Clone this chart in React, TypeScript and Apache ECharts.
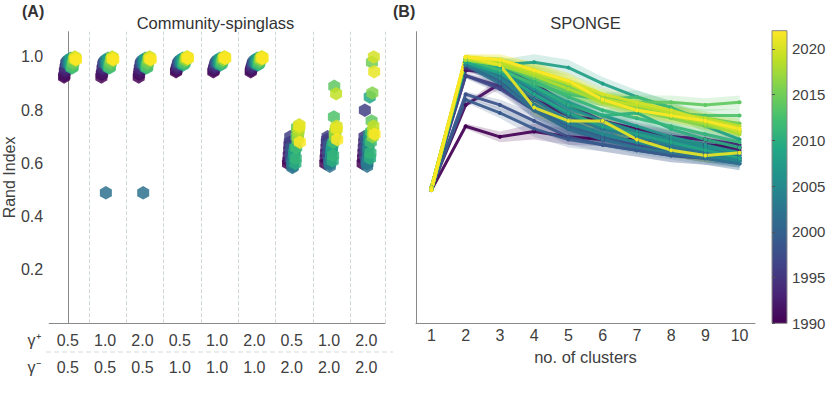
import React, { useEffect, useRef } from 'react';
import * as echarts from 'echarts';

// ---------- data ----------
const YEARS = [1990, 1991, 1992, 1993, 1994, 1995, 1996, 1997, 1998, 1999, 2000, 2001, 2002, 2003, 2004, 2005, 2006, 2007, 2008, 2009, 2010, 2011, 2012, 2013, 2014, 2015, 2016, 2017, 2018, 2019, 2020, 2021, 2022];

const GAMMA_PLUS = ['0.5', '1.0', '2.0', '0.5', '1.0', '2.0', '0.5', '1.0', '2.0'];
const GAMMA_MINUS = ['0.5', '0.5', '0.5', '1.0', '1.0', '1.0', '2.0', '2.0', '2.0'];
const COLUMN_POS = [0, 1, 2, 3, 4, 5, 6, 7, 8];
const SEPARATORS = [0.57, 1.57, 2.57, 3.57, 4.57, 5.57, 6.57, 7.57, 8.5];
const Y_TICKS = [0.2, 0.4, 0.6, 0.8, 1.0];

// Rand index per column (index = year order 1990..2022)
const SPIN_C1 = [0.925, 0.93, 0.945, 0.95, 0.96, 0.965, 0.975, 0.98, 0.975, 0.98, 0.985, 0.975, 0.98, 0.99, 0.985, 0.97, 0.975, 0.99, 0.995, 0.96, 0.965, 0.97, 0.96, 0.965, 0.975, 0.98, 0.99, 0.99, 0.995, 1.0, 0.995, 0.995, 0.99];
const SPIN_C2 = [0.925, 0.935, 0.94, 0.955, 0.96, 0.97, 0.975, 0.98, 0.975, 0.98, 0.985, 0.975, 0.49, 0.99, 0.985, 0.97, 0.975, 0.99, 0.995, 0.96, 0.965, 0.97, 0.96, 0.965, 0.975, 0.98, 0.99, 0.99, 0.995, 1.0, 0.995, 0.995, 0.99];
const SPIN_C3 = [0.925, 0.935, 0.945, 0.955, 0.96, 0.97, 0.975, 0.98, 0.975, 0.98, 0.985, 0.975, 0.49, 0.99, 0.985, 0.97, 0.975, 0.99, 0.995, 0.96, 0.965, 0.97, 0.96, 0.965, 0.975, 0.98, 0.99, 0.99, 0.995, 1.0, 0.995, 0.995, 0.99];
const SPIN_C4 = [0.945, 0.95, 0.955, 0.96, 0.965, 0.97, 0.975, 0.98, 0.975, 0.98, 0.985, 0.98, 0.98, 0.99, 0.985, 0.975, 0.98, 0.99, 0.995, 0.97, 0.975, 0.98, 0.975, 0.98, 0.985, 0.99, 0.995, 0.99, 0.995, 1.0, 0.995, 1.0, 0.995];
const SPIN_C5 = [0.945, 0.95, 0.955, 0.96, 0.965, 0.97, 0.975, 0.98, 0.975, 0.98, 0.985, 0.98, 0.98, 0.99, 0.985, 0.975, 0.98, 0.99, 0.995, 0.97, 0.975, 0.98, 0.975, 0.98, 0.985, 0.99, 0.995, 0.99, 0.995, 1.0, 0.995, 1.0, 0.995];
const SPIN_C6 = [0.945, 0.95, 0.955, 0.96, 0.965, 0.97, 0.975, 0.98, 0.975, 0.98, 0.985, 0.98, 0.98, 0.99, 0.985, 0.975, 0.98, 0.99, 0.995, 0.97, 0.975, 0.98, 0.975, 0.98, 0.985, 0.99, 0.995, 0.99, 0.995, 1.0, 0.995, 1.0, 0.995];
const SPIN_C7 = [0.60, 0.61, 0.63, 0.65, 0.67, 0.68, 0.70, 0.62, 0.64, 0.66, 0.61, 0.60, 0.585, 0.59, 0.60, 0.62, 0.63, 0.64, 0.65, 0.66, 0.60, 0.62, 0.66, 0.70, 0.735, 0.72, 0.69, 0.70, 0.72, 0.73, 0.745, 0.74, 0.68];
const SPIN_C8 = [0.60, 0.62, 0.64, 0.66, 0.68, 0.69, 0.70, 0.63, 0.65, 0.67, 0.61, 0.60, 0.59, 0.60, 0.61, 0.63, 0.64, 0.65, 0.66, 0.67, 0.61, 0.63, 0.68, 0.775, 0.89, 0.71, 0.70, 0.72, 0.73, 0.862, 0.74, 0.73, 0.69];
const SPIN_C9 = [0.60, 0.62, 0.64, 0.66, 0.68, 0.70, 0.80, 0.63, 0.66, 0.69, 0.61, 0.60, 0.59, 0.60, 0.62, 0.65, 0.67, 0.69, 0.71, 0.85, 0.62, 0.64, 0.68, 0.72, 0.76, 0.98, 0.865, 0.70, 0.72, 0.74, 1.0, 0.945, 0.71];
const SPIN_COLUMNS = [SPIN_C1, SPIN_C2, SPIN_C3, SPIN_C4, SPIN_C5, SPIN_C6, SPIN_C7, SPIN_C8, SPIN_C9];

const CLUSTERS = [1, 2, 3, 4, 5, 6, 7, 8, 9, 10];
const SPONGE = [
  [0.50, 0.74, 0.70, 0.72, 0.70, 0.69, 0.69, 0.68, 0.67, 0.66],
  [0.51, 0.82, 0.90, 0.84, 0.78, 0.76, 0.73, 0.70, 0.69, 0.66],
  [0.50, 0.95, 0.94, 0.86, 0.78, 0.73, 0.71, 0.69, 0.67, 0.65],
  [0.51, 0.97, 0.96, 0.90, 0.82, 0.76, 0.72, 0.70, 0.69, 0.67],
  [0.50, 0.96, 0.92, 0.82, 0.75, 0.70, 0.68, 0.66, 0.64, 0.63],
  [0.51, 0.93, 0.89, 0.80, 0.73, 0.69, 0.67, 0.65, 0.63, 0.62],
  [0.50, 0.96, 0.93, 0.86, 0.79, 0.74, 0.71, 0.68, 0.66, 0.64],
  [0.51, 0.93, 0.88, 0.80, 0.74, 0.70, 0.67, 0.65, 0.63, 0.62],
  [0.50, 0.86, 0.82, 0.76, 0.70, 0.67, 0.65, 0.63, 0.62, 0.61],
  [0.51, 0.84, 0.79, 0.73, 0.69, 0.67, 0.65, 0.63, 0.62, 0.60],
  [0.50, 0.97, 0.91, 0.81, 0.74, 0.70, 0.68, 0.65, 0.63, 0.61],
  [0.51, 0.98, 0.95, 0.87, 0.79, 0.73, 0.70, 0.67, 0.65, 0.62],
  [0.50, 0.97, 0.90, 0.80, 0.73, 0.69, 0.66, 0.64, 0.62, 0.60],
  [0.51, 0.98, 0.93, 0.84, 0.76, 0.71, 0.68, 0.66, 0.64, 0.62],
  [0.50, 0.97, 0.94, 0.86, 0.78, 0.73, 0.70, 0.67, 0.65, 0.63],
  [0.51, 0.98, 0.92, 0.82, 0.75, 0.71, 0.68, 0.65, 0.63, 0.61],
  [0.50, 0.98, 0.95, 0.88, 0.81, 0.76, 0.72, 0.69, 0.66, 0.64],
  [0.51, 0.99, 0.96, 0.89, 0.83, 0.78, 0.74, 0.70, 0.67, 0.64],
  [0.50, 0.98, 0.97, 0.98, 0.96, 0.90, 0.85, 0.81, 0.74, 0.69],
  [0.51, 0.98, 0.94, 0.86, 0.79, 0.74, 0.71, 0.68, 0.65, 0.62],
  [0.50, 0.99, 0.96, 0.89, 0.82, 0.78, 0.79, 0.73, 0.69, 0.66],
  [0.51, 0.99, 0.97, 0.91, 0.85, 0.80, 0.77, 0.74, 0.71, 0.68],
  [0.50, 0.99, 0.95, 0.90, 0.86, 0.84, 0.85, 0.81, 0.76, 0.72],
  [0.51, 0.99, 0.98, 0.93, 0.88, 0.84, 0.81, 0.79, 0.78, 0.78],
  [0.50, 0.99, 0.97, 0.92, 0.87, 0.84, 0.83, 0.83, 0.82, 0.83],
  [0.51, 0.99, 0.98, 0.94, 0.89, 0.85, 0.82, 0.80, 0.77, 0.75],
  [0.50, 0.99, 0.97, 0.93, 0.88, 0.84, 0.80, 0.77, 0.74, 0.72],
  [0.51, 0.99, 0.98, 0.95, 0.90, 0.85, 0.81, 0.78, 0.75, 0.73],
  [0.50, 0.99, 0.97, 0.93, 0.88, 0.83, 0.80, 0.78, 0.75, 0.71],
  [0.51, 1.00, 0.98, 0.94, 0.90, 0.84, 0.82, 0.79, 0.77, 0.74],
  [0.50, 1.00, 0.99, 0.95, 0.91, 0.86, 0.83, 0.80, 0.76, 0.72],
  [0.51, 1.00, 0.97, 0.81, 0.76, 0.76, 0.69, 0.65, 0.63, 0.64],
  [0.50, 1.00, 0.99, 0.95, 0.91, 0.84, 0.80, 0.78, 0.76, 0.73],
];
const SPONGE_SPREAD = [0.01, 0.01, 0.02, 0.03, 0.03, 0.025, 0.025, 0.025, 0.025, 0.025];
const COLORBAR_TICKS = [1990, 1995, 2000, 2005, 2010, 2015, 2020];

// ---------- helpers ----------
const VIRIDIS = ['#440154', '#482475', '#414487', '#355f8d', '#2a788e', '#21918c', '#22a884', '#44bf70', '#7ad151', '#bddf26', '#fde725'];
const YEAR_MIN = 1990;
const YEAR_MAX = 2022;

function hexToRgb(h: string) {
  const n = parseInt(h.slice(1), 16);
  return [(n >> 16) & 255, (n >> 8) & 255, n & 255];
}
function viridis(t: number) {
  const tt = Math.max(0, Math.min(1, t));
  const p = tt * (VIRIDIS.length - 1);
  const i = Math.min(Math.floor(p), VIRIDIS.length - 2);
  const f = p - i;
  const a = hexToRgb(VIRIDIS[i]);
  const b = hexToRgb(VIRIDIS[i + 1]);
  const c = a.map((v, k) => Math.round(v + (b[k] - v) * f));
  return `rgb(${c[0]},${c[1]},${c[2]})`;
}
const yearColor = (y: number) => viridis((y - YEAR_MIN) / (YEAR_MAX - YEAR_MIN));

const FONT = 'Liberation Sans, Arial, sans-serif';
const TXT = '#404040';
const AXIS = '#8a8a8a';
const HEX = 'path://M0,-10L8.66,-5L8.66,5L0,10L-8.66,5L-8.66,-5Z';
const Y_MAX = 1.095;

// layout
const GA = { left: 46, top: 31.7, width: 339, height: 291.5 };
const GB = { left: 416, top: 31.7, width: 339, height: 291.5 };
const GC = { left: 772, top: 30.7, width: 15, height: 292.6 };

export default function App() {
  const ref = useRef<HTMLDivElement>(null);
  useEffect(() => {
    if (!ref.current) return;
    const chart = echarts.init(ref.current, null, { renderer: 'svg' });

    const scatterData: any[] = [];
    YEARS.forEach((y, k) => {
      SPIN_COLUMNS.forEach((col, c) => {
        const dodge = -0.1 + (y - YEAR_MIN) * 0.01;
        scatterData.push({ value: [COLUMN_POS[c] + dodge, col[k]], itemStyle: { color: yearColor(y) } });
      });
    });

    const lineSeries = YEARS.map((y, k) => ({
      type: 'line',
      xAxisIndex: 2,
      yAxisIndex: 1,
      data: CLUSTERS.map((c, i) => [c, SPONGE[k][i]]),
      symbol: 'circle',
      symbolSize: 4,
      showSymbol: true,
      lineStyle: { width: 3, color: yearColor(y), opacity: 0.92 },
      itemStyle: { color: yearColor(y) },
      z: 3,
      silent: true,
    }));

    // gradient: offset 0 = top (2022, yellow), offset 1 = bottom (1990, purple)
    const stops = VIRIDIS.map((c, i) => ({ offset: 1 - i / (VIRIDIS.length - 1), color: c })).reverse();

    chart.setOption({
      animation: false,
      textStyle: { fontFamily: FONT },
      grid: [
        { ...GA, containLabel: false },
        { ...GB, containLabel: false },
        { ...GC, containLabel: false },
      ],
      xAxis: [
        {
          gridIndex: 0, type: 'value', min: -0.5, max: 8.5, position: 'bottom',
          axisLine: { show: true, lineStyle: { color: AXIS } }, axisTick: { show: false }, splitLine: { show: false },
          axisLabel: { customValues: COLUMN_POS, formatter: (v: number) => GAMMA_PLUS[Math.round(v)], margin: 9, fontSize: 16, color: TXT },
        },
        {
          gridIndex: 0, type: 'value', min: -0.5, max: 8.5, position: 'bottom', offset: 27.4,
          axisLine: { show: false }, axisTick: { show: false }, splitLine: { show: false },
          axisLabel: { customValues: COLUMN_POS, formatter: (v: number) => GAMMA_MINUS[Math.round(v)], margin: 9, fontSize: 16, color: TXT },
        },
        {
          gridIndex: 1, type: 'value', min: 0.55, max: 10.45,
          axisLine: { show: true, lineStyle: { color: AXIS } }, axisTick: { show: false }, splitLine: { show: false },
          axisLabel: { customValues: CLUSTERS, margin: 4, fontSize: 16, color: TXT },
          name: 'no. of clusters', nameLocation: 'middle', nameGap: 21,
          nameTextStyle: { fontSize: 16.5, color: TXT },
        },
        { gridIndex: 2, type: 'value', min: 0, max: 1, show: false },
      ],
      yAxis: [
        {
          gridIndex: 0, type: 'value', min: 0, max: Y_MAX,
          axisLine: { show: true, lineStyle: { color: AXIS } }, axisTick: { show: false }, splitLine: { show: false },
          axisLabel: { customValues: Y_TICKS, formatter: (v: number) => v.toFixed(1), margin: 6, fontSize: 16, color: TXT },
          name: 'Rand Index', nameLocation: 'middle', nameGap: 30,
          nameTextStyle: { fontSize: 16, color: TXT },
        },
        {
          gridIndex: 1, type: 'value', min: 0, max: Y_MAX,
          axisLine: { show: true, lineStyle: { color: AXIS } }, axisTick: { show: false }, splitLine: { show: false },
          axisLabel: { show: false },
        },
        {
          gridIndex: 2, type: 'value', min: YEAR_MIN, max: YEAR_MAX, position: 'right',
          axisLine: { show: false }, splitLine: { show: false },
          axisTick: { show: true, length: 3, customValues: COLORBAR_TICKS, lineStyle: { color: '#555' } },
          axisLabel: { customValues: COLORBAR_TICKS, formatter: (v: number) => String(Math.round(v)), margin: 5, fontSize: 15, color: TXT },
        },
      ],
      graphic: [
        { type: 'rect', shape: { x: GC.left, y: GC.top, width: GC.width, height: GC.height }, style: { fill: new echarts.graphic.LinearGradient(0, 0, 0, 1, stops), stroke: '#888', lineWidth: 1 }, z: 0 },
        { type: 'text', x: 22, y: 11.5, style: { text: '(A)', font: `bold 16px ${FONT}`, fill: '#333', verticalAlign: 'middle', align: 'left' } },
        { type: 'text', x: 393, y: 11.5, style: { text: '(B)', font: `bold 16px ${FONT}`, fill: '#333', verticalAlign: 'middle', align: 'left' } },
        { type: 'text', x: GA.left + GA.width / 2, y: 22.7, style: { text: 'Community-spinglass', font: `16.5px ${FONT}`, fill: '#333', verticalAlign: 'middle', align: 'center' } },
        { type: 'text', x: GB.left + GB.width / 2, y: 22.7, style: { text: 'SPONGE', font: `16.5px ${FONT}`, fill: '#333', verticalAlign: 'middle', align: 'center' } },
        { type: 'text', x: 34, y: 340, style: { text: 'γ⁺', font: `16px ${FONT}`, fill: TXT, verticalAlign: 'middle', align: 'center' } },
        { type: 'text', x: 34, y: 367.5, style: { text: 'γ⁻', font: `16px ${FONT}`, fill: TXT, verticalAlign: 'middle', align: 'center' } },
        { type: 'line', shape: { x1: GA.left, y1: 352, x2: 393, y2: 352 }, style: { stroke: '#d3dadd', lineWidth: 1, lineDash: [5, 3] } },
      ],
      series: [
        {
          type: 'scatter', xAxisIndex: 0, yAxisIndex: 0,
          symbol: HEX, symbolSize: [12, 13.5],
          itemStyle: { opacity: 0.85 },
          data: scatterData, silent: true, z: 3,
          markLine: {
            silent: true, symbol: ['none', 'none'], label: { show: false },
            lineStyle: { type: 'dashed', color: '#d0d7da', width: 1 },
            data: SEPARATORS.map((x) => ({ xAxis: x })),
            z: 1,
          },
        },
        {
          type: 'custom', xAxisIndex: 2, yAxisIndex: 1, z: 2, silent: true,
          data: YEARS.map((y, k) => [1, 0.5, k]),
          renderItem: (params: any, api: any) => {
            const k = api.value(2);
            const vals = SPONGE[k];
            const up = CLUSTERS.map((c, i) => api.coord([c, vals[i] + SPONGE_SPREAD[i]]));
            const lo = CLUSTERS.map((c, i) => api.coord([c, vals[i] - SPONGE_SPREAD[i]])).reverse();
            return { type: 'polygon', shape: { points: up.concat(lo) }, style: { fill: yearColor(YEARS[k]), opacity: 0.18 } };
          },
        },
        ...lineSeries,
      ],
    });
    return () => chart.dispose();
  }, []);
  return <div ref={ref} style={{ position: 'absolute', left: 0, top: 0, width: 830, height: 396, background: '#fff' }} />;
}
